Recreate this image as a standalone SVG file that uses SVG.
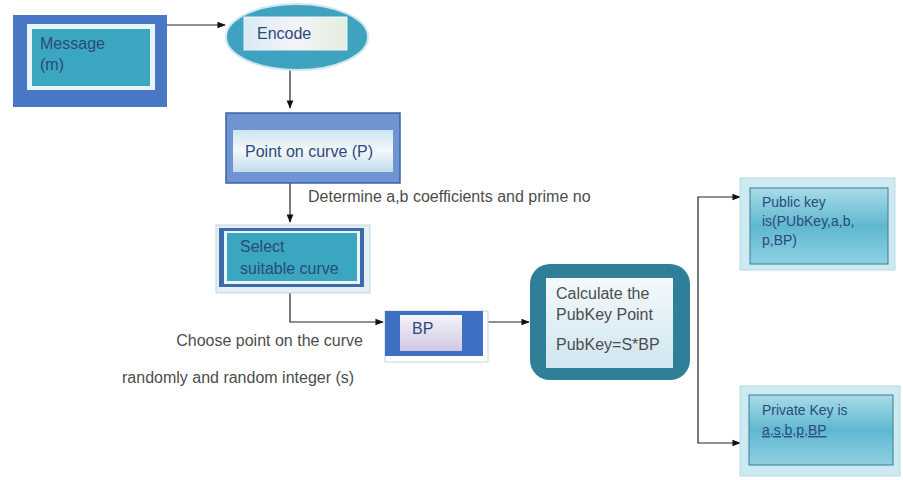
<svg xmlns="http://www.w3.org/2000/svg" width="903" height="480" viewBox="0 0 903 480">
  <defs>
    <style>
      .lbl { font-family: "Liberation Sans", Arial, sans-serif; font-size: 16px; }
      .small { font-size: 14px; }
      .dark { fill: #2c4a7a; }
      .grey { fill: #4d4d4d; }
      .conn { fill: none; stroke: #222; stroke-width: 1.2; }
    </style>
    <marker id="arrow" viewBox="0 0 10 10" refX="9" refY="5" markerWidth="7" markerHeight="7" orient="auto">
      <path d="M0,1 L10,5 L0,9 z" fill="#111"/>
    </marker>
    <linearGradient id="paleV" x1="0" y1="0" x2="0" y2="1">
      <stop offset="0" stop-color="#cfe6f0"/>
      <stop offset="0.5" stop-color="#f2f8fb"/>
      <stop offset="1" stop-color="#c3dcea"/>
    </linearGradient>
    <linearGradient id="lavender" x1="0" y1="0" x2="0" y2="1">
      <stop offset="0" stop-color="#f4f4fa"/>
      <stop offset="1" stop-color="#cfc8e2"/>
    </linearGradient>
    <linearGradient id="encodeFill" x1="0" y1="0" x2="1" y2="0">
      <stop offset="0" stop-color="#d8eaf3"/>
      <stop offset="0.5" stop-color="#f6f4fa"/>
      <stop offset="1" stop-color="#e4eedf"/>
    </linearGradient>
    <linearGradient id="calcFill" x1="0" y1="0" x2="0" y2="1">
      <stop offset="0" stop-color="#f4f9fc"/>
      <stop offset="1" stop-color="#cfe6f0"/>
    </linearGradient>
    <linearGradient id="keyFill" x1="0" y1="0" x2="0" y2="1">
      <stop offset="0" stop-color="#a9dbe8"/>
      <stop offset="0.5" stop-color="#5fb8d0"/>
      <stop offset="1" stop-color="#8fd0e1"/>
    </linearGradient>
  </defs>

  <rect width="903" height="480" fill="#ffffff"/>

  <!-- connectors -->
  <g id="connectors">
    <path class="conn" d="M155,25 H225" marker-end="url(#arrow)"/>
    <path class="conn" d="M290,70 V108" marker-end="url(#arrow)"/>
    <path class="conn" d="M290,183 V222" marker-end="url(#arrow)"/>
    <path class="conn" d="M290,290 V322 H383" marker-end="url(#arrow)"/>
    <path class="conn" d="M488,322 H529" marker-end="url(#arrow)"/>
    <path class="conn" d="M698,320 V197 H740" marker-end="url(#arrow)"/>
    <path class="conn" d="M698,320 V443 H740" marker-end="url(#arrow)"/>
  </g>

  <!-- Message -->
  <g id="message">
    <rect x="13" y="15" width="154" height="92" fill="#4a78c4"/>
    <rect x="27" y="24" width="128" height="66" fill="#e8f6fa"/>
    <rect x="32" y="29" width="118" height="57" fill="#3aa6bf"/>
    <text class="lbl dark" x="40" y="49">Message</text>
    <text class="lbl dark" x="40" y="70">(m)</text>
  </g>

  <!-- Encode -->
  <g id="encode">
    <ellipse cx="297" cy="37" rx="71" ry="33" fill="#3fa3c0" stroke="#cbe7ef" stroke-width="2"/>
    <rect x="244" y="17" width="103" height="33" fill="url(#encodeFill)" stroke="#e8f3f8" stroke-width="1"/>
    <text class="lbl dark" x="257" y="39">Encode</text>
  </g>

  <!-- Point on curve -->
  <g id="point">
    <rect x="226" y="113" width="174" height="70" fill="#6e94d2" stroke="#3f64a8" stroke-width="1.5"/>
    <rect x="233" y="130" width="160" height="42" fill="url(#paleV)"/>
    <text class="lbl dark" x="245" y="157">Point on curve (P)</text>
  </g>
  <text class="lbl grey" x="308" y="202">Determine a,b coefficients and prime no</text>

  <!-- Select suitable curve -->
  <g id="select">
    <rect x="216" y="225" width="154" height="68" fill="#e3eef5" stroke="#c5d6e4" stroke-width="1"/>
    <rect x="219" y="228" width="145" height="59" fill="#3d6aa8"/>
    <rect x="224" y="231" width="136" height="53" fill="#e8f4f8"/>
    <rect x="227" y="233" width="130" height="48" fill="#3aa6bf"/>
    <text class="lbl dark" x="240" y="252">Select</text>
    <text class="lbl dark" x="240" y="274">suitable curve</text>
  </g>

  <!-- BP -->
  <g id="bp">
    <rect x="385" y="311" width="103" height="51" fill="none" stroke="#c8d4e4" stroke-width="1"/>
    <rect x="385" y="311" width="98" height="45" fill="#3f6fc2"/>
    <rect x="400" y="315" width="62" height="36" fill="url(#lavender)"/>
    <text class="lbl dark" x="412" y="334">BP</text>
  </g>
  <text class="lbl grey" x="363" y="346" text-anchor="end">Choose point on the curve</text>
  <text class="lbl grey" x="122" y="383">randomly and random integer (s)</text>

  <!-- Calculate PubKey -->
  <g id="calculate">
    <rect x="530" y="264" width="160" height="116" rx="20" ry="20" fill="#2e7f97"/>
    <rect x="546" y="278" width="127" height="90" fill="url(#calcFill)"/>
    <text class="lbl grey" x="556" y="299">Calculate the</text>
    <text class="lbl grey" x="556" y="320">PubKey Point</text>
    <text class="lbl grey" x="556" y="350">PubKey=S*BP</text>
  </g>

  <!-- Public key -->
  <g id="public-key">
    <rect x="740" y="178" width="155" height="92" fill="#cde9f1" stroke="#b6dbe6" stroke-width="1"/>
    <rect x="750" y="188" width="138" height="76" fill="url(#keyFill)" stroke="#3a7d94" stroke-width="1"/>
    <text class="lbl small dark" x="762" y="207">Public key</text>
    <text class="lbl small dark" x="762" y="226">is(PUbKey,a,b,</text>
    <text class="lbl small dark" x="762" y="245">p,BP)</text>
  </g>

  <!-- Private key -->
  <g id="private-key">
    <rect x="740" y="386" width="160" height="90" fill="#cde9f1" stroke="#b6dbe6" stroke-width="1"/>
    <rect x="749" y="395" width="144" height="70" fill="url(#keyFill)" stroke="#3a7d94" stroke-width="1"/>
    <text class="lbl small dark" x="762" y="415">Private Key is</text>
    <text class="lbl small dark" x="762" y="435" text-decoration="underline">a,s,b,p,BP</text>
  </g>
</svg>
